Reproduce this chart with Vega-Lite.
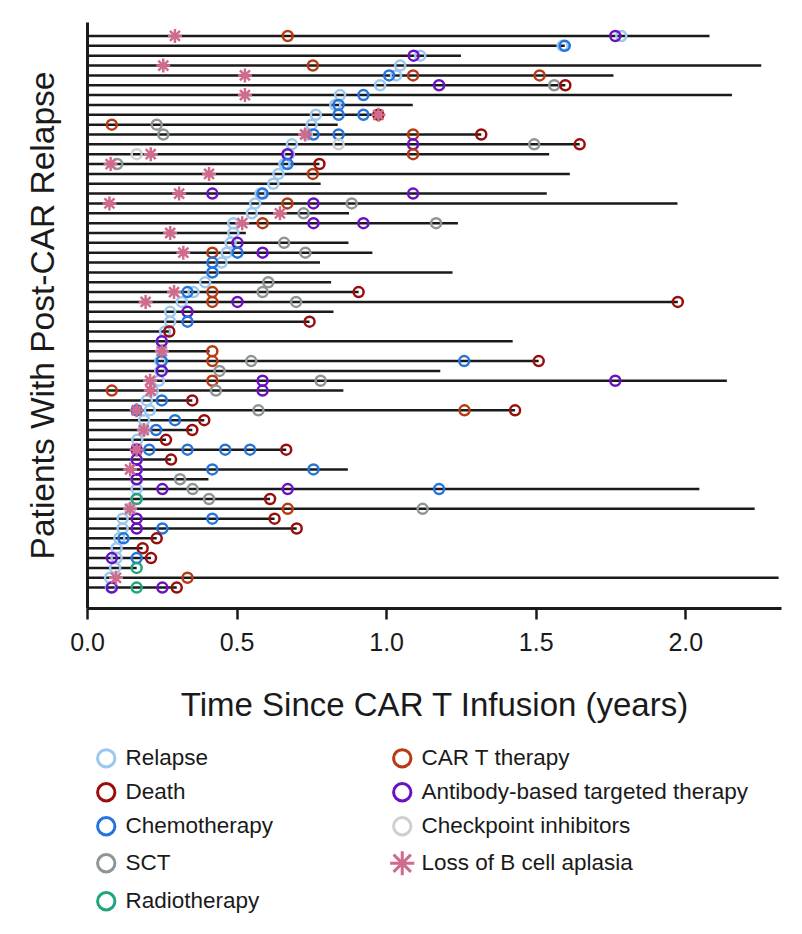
{
  "$schema": "https://vega.github.io/schema/vega-lite/v6.json",
  "width": 694,
  "height": 586,
  "autosize": {"type": "none"},
  "padding": {"left": 87, "top": 22, "right": 21, "bottom": 326},
  "background": "white",
  "config": {"view": {"stroke": null}, "font": "Liberation Sans"},
  "datasets": {
    "lines": [
      {"pt": 1, "start": 0, "end": 2.081}, {"pt": 2, "start": 0, "end": 1.597}, {"pt": 3, "start": 0, "end": 1.25},
      {"pt": 4, "start": 0, "end": 2.254}, {"pt": 5, "start": 0, "end": 1.76}, {"pt": 6, "start": 0, "end": 1.599},
      {"pt": 7, "start": 0, "end": 2.156}, {"pt": 8, "start": 0, "end": 1.089}, {"pt": 9, "start": 0, "end": 0.974},
      {"pt": 10, "start": 0, "end": 0.838}, {"pt": 11, "start": 0, "end": 1.318}, {"pt": 12, "start": 0, "end": 1.647},
      {"pt": 13, "start": 0, "end": 1.545}, {"pt": 14, "start": 0, "end": 0.777}, {"pt": 15, "start": 0, "end": 1.614},
      {"pt": 16, "start": 0, "end": 0.781}, {"pt": 17, "start": 0, "end": 1.537}, {"pt": 18, "start": 0, "end": 1.974},
      {"pt": 19, "start": 0, "end": 0.876}, {"pt": 20, "start": 0, "end": 1.24}, {"pt": 21, "start": 0, "end": 0.531},
      {"pt": 22, "start": 0, "end": 0.874}, {"pt": 23, "start": 0, "end": 0.954}, {"pt": 24, "start": 0, "end": 0.779},
      {"pt": 25, "start": 0, "end": 1.222}, {"pt": 26, "start": 0, "end": 0.816}, {"pt": 27, "start": 0, "end": 0.908},
      {"pt": 28, "start": 0, "end": 1.975}, {"pt": 29, "start": 0, "end": 0.824}, {"pt": 30, "start": 0, "end": 0.744},
      {"pt": 31, "start": 0, "end": 0.275}, {"pt": 32, "start": 0, "end": 1.423}, {"pt": 33, "start": 0, "end": 0.41},
      {"pt": 34, "start": 0, "end": 1.51}, {"pt": 35, "start": 0, "end": 1.181}, {"pt": 36, "start": 0, "end": 2.139},
      {"pt": 37, "start": 0, "end": 0.857}, {"pt": 38, "start": 0, "end": 0.352}, {"pt": 39, "start": 0, "end": 1.431},
      {"pt": 40, "start": 0, "end": 0.392}, {"pt": 41, "start": 0, "end": 0.352}, {"pt": 42, "start": 0, "end": 0.264},
      {"pt": 43, "start": 0, "end": 0.666}, {"pt": 44, "start": 0, "end": 0.281}, {"pt": 45, "start": 0, "end": 0.872},
      {"pt": 46, "start": 0, "end": 0.406}, {"pt": 47, "start": 0, "end": 2.047}, {"pt": 48, "start": 0, "end": 0.612},
      {"pt": 49, "start": 0, "end": 2.232}, {"pt": 50, "start": 0, "end": 0.627}, {"pt": 51, "start": 0, "end": 0.701},
      {"pt": 52, "start": 0, "end": 0.233}, {"pt": 53, "start": 0, "end": 0.186}, {"pt": 54, "start": 0, "end": 0.214},
      {"pt": 55, "start": 0, "end": 0.166}, {"pt": 56, "start": 0, "end": 2.312}, {"pt": 57, "start": 0, "end": 0.3}
    ],
    "events": [
      {"pt": 1, "t": 1.786, "type": "Relapse"}, {"pt": 2, "t": 1.59, "type": "Relapse"}, {"pt": 3, "t": 1.114, "type": "Relapse"},
      {"pt": 4, "t": 1.047, "type": "Relapse"}, {"pt": 5, "t": 1.033, "type": "Relapse"}, {"pt": 6, "t": 0.98, "type": "Relapse"},
      {"pt": 7, "t": 0.846, "type": "Relapse"}, {"pt": 8, "t": 0.83, "type": "Relapse"}, {"pt": 9, "t": 0.765, "type": "Relapse"},
      {"pt": 10, "t": 0.751, "type": "Relapse"}, {"pt": 11, "t": 0.735, "type": "Relapse"}, {"pt": 12, "t": 0.685, "type": "Relapse"},
      {"pt": 13, "t": 0.675, "type": "Relapse"}, {"pt": 14, "t": 0.66, "type": "Relapse"}, {"pt": 15, "t": 0.64, "type": "Relapse"},
      {"pt": 16, "t": 0.623, "type": "Relapse"}, {"pt": 17, "t": 0.58, "type": "Relapse"}, {"pt": 18, "t": 0.562, "type": "Relapse"},
      {"pt": 19, "t": 0.551, "type": "Relapse"}, {"pt": 20, "t": 0.489, "type": "Relapse"}, {"pt": 21, "t": 0.489, "type": "Relapse"},
      {"pt": 22, "t": 0.48, "type": "Relapse"}, {"pt": 23, "t": 0.467, "type": "Relapse"}, {"pt": 24, "t": 0.45, "type": "Relapse"},
      {"pt": 25, "t": 0.42, "type": "Relapse"}, {"pt": 26, "t": 0.395, "type": "Relapse"}, {"pt": 27, "t": 0.356, "type": "Relapse"},
      {"pt": 28, "t": 0.317, "type": "Relapse"}, {"pt": 29, "t": 0.278, "type": "Relapse"}, {"pt": 30, "t": 0.278, "type": "Relapse"},
      {"pt": 31, "t": 0.261, "type": "Relapse"}, {"pt": 32, "t": 0.25, "type": "Relapse"}, {"pt": 33, "t": 0.25, "type": "Relapse"},
      {"pt": 34, "t": 0.245, "type": "Relapse"}, {"pt": 35, "t": 0.245, "type": "Relapse"}, {"pt": 36, "t": 0.24, "type": "Relapse"},
      {"pt": 37, "t": 0.22, "type": "Relapse"}, {"pt": 38, "t": 0.2, "type": "Relapse"}, {"pt": 39, "t": 0.21, "type": "Relapse"},
      {"pt": 40, "t": 0.191, "type": "Relapse"}, {"pt": 41, "t": 0.19, "type": "Relapse"}, {"pt": 42, "t": 0.168, "type": "Relapse"},
      {"pt": 43, "t": 0.166, "type": "Relapse"}, {"pt": 44, "t": 0.166, "type": "Relapse"}, {"pt": 45, "t": 0.166, "type": "Relapse"},
      {"pt": 46, "t": 0.166, "type": "Relapse"}, {"pt": 47, "t": 0.166, "type": "Relapse"}, {"pt": 48, "t": 0.166, "type": "Relapse"},
      {"pt": 49, "t": 0.144, "type": "Relapse"}, {"pt": 50, "t": 0.119, "type": "Relapse"}, {"pt": 51, "t": 0.119, "type": "Relapse"},
      {"pt": 52, "t": 0.108, "type": "Relapse"}, {"pt": 53, "t": 0.099, "type": "Relapse"}, {"pt": 54, "t": 0.099, "type": "Relapse"},
      {"pt": 55, "t": 0.094, "type": "Relapse"}, {"pt": 56, "t": 0.077, "type": "Relapse"}, {"pt": 57, "t": 0.08, "type": "Relapse"},

      {"pt": 1, "t": 0.671, "type": "CAR T therapy"}, {"pt": 1, "t": 1.766, "type": "Antibody-based targeted therapy"},
      {"pt": 2, "t": 1.597, "type": "Chemotherapy"},
      {"pt": 3, "t": 1.092, "type": "Antibody-based targeted therapy"},
      {"pt": 4, "t": 0.755, "type": "CAR T therapy"},
      {"pt": 5, "t": 1.01, "type": "Chemotherapy"}, {"pt": 5, "t": 1.09, "type": "CAR T therapy"}, {"pt": 5, "t": 1.513, "type": "CAR T therapy"},
      {"pt": 6, "t": 1.177, "type": "Antibody-based targeted therapy"}, {"pt": 6, "t": 1.562, "type": "SCT"}, {"pt": 6, "t": 1.599, "type": "Death"},
      {"pt": 7, "t": 0.924, "type": "Chemotherapy"},
      {"pt": 8, "t": 0.841, "type": "Chemotherapy"},
      {"pt": 9, "t": 0.841, "type": "Chemotherapy"}, {"pt": 9, "t": 0.924, "type": "Chemotherapy"}, {"pt": 9, "t": 0.974, "type": "Death"},
      {"pt": 10, "t": 0.083, "type": "CAR T therapy"}, {"pt": 10, "t": 0.233, "type": "SCT"},
      {"pt": 11, "t": 0.255, "type": "SCT"}, {"pt": 11, "t": 0.757, "type": "Chemotherapy"}, {"pt": 11, "t": 0.841, "type": "Chemotherapy"}, {"pt": 11, "t": 1.09, "type": "CAR T therapy"}, {"pt": 11, "t": 1.318, "type": "Death"},
      {"pt": 12, "t": 0.841, "type": "Checkpoint inhibitors"}, {"pt": 12, "t": 1.09, "type": "Antibody-based targeted therapy"}, {"pt": 12, "t": 1.495, "type": "SCT"}, {"pt": 12, "t": 1.647, "type": "Death"},
      {"pt": 13, "t": 0.166, "type": "Checkpoint inhibitors"}, {"pt": 13, "t": 0.67, "type": "Antibody-based targeted therapy"}, {"pt": 13, "t": 1.09, "type": "CAR T therapy"},
      {"pt": 14, "t": 0.101, "type": "SCT"}, {"pt": 14, "t": 0.67, "type": "Chemotherapy"}, {"pt": 14, "t": 0.777, "type": "Death"},
      {"pt": 15, "t": 0.755, "type": "CAR T therapy"},
      {"pt": 17, "t": 0.419, "type": "Antibody-based targeted therapy"}, {"pt": 17, "t": 0.587, "type": "Chemotherapy"}, {"pt": 17, "t": 1.09, "type": "Antibody-based targeted therapy"},
      {"pt": 18, "t": 0.67, "type": "CAR T therapy"}, {"pt": 18, "t": 0.757, "type": "Antibody-based targeted therapy"}, {"pt": 18, "t": 0.885, "type": "SCT"},
      {"pt": 19, "t": 0.724, "type": "SCT"},
      {"pt": 20, "t": 0.587, "type": "CAR T therapy"}, {"pt": 20, "t": 0.757, "type": "Antibody-based targeted therapy"}, {"pt": 20, "t": 0.924, "type": "Antibody-based targeted therapy"}, {"pt": 20, "t": 1.167, "type": "SCT"},
      {"pt": 22, "t": 0.503, "type": "Antibody-based targeted therapy"}, {"pt": 22, "t": 0.659, "type": "SCT"},
      {"pt": 23, "t": 0.419, "type": "CAR T therapy"}, {"pt": 23, "t": 0.503, "type": "Chemotherapy"}, {"pt": 23, "t": 0.587, "type": "Antibody-based targeted therapy"}, {"pt": 23, "t": 0.73, "type": "SCT"},
      {"pt": 24, "t": 0.419, "type": "Chemotherapy"},
      {"pt": 25, "t": 0.419, "type": "Chemotherapy"},
      {"pt": 26, "t": 0.606, "type": "SCT"},
      {"pt": 27, "t": 0.336, "type": "Chemotherapy"}, {"pt": 27, "t": 0.419, "type": "CAR T therapy"}, {"pt": 27, "t": 0.587, "type": "SCT"}, {"pt": 27, "t": 0.908, "type": "Death"},
      {"pt": 28, "t": 0.419, "type": "CAR T therapy"}, {"pt": 28, "t": 0.503, "type": "Antibody-based targeted therapy"}, {"pt": 28, "t": 0.699, "type": "SCT"}, {"pt": 28, "t": 1.975, "type": "Death"},
      {"pt": 29, "t": 0.336, "type": "Antibody-based targeted therapy"},
      {"pt": 30, "t": 0.336, "type": "Chemotherapy"}, {"pt": 30, "t": 0.744, "type": "Death"},
      {"pt": 31, "t": 0.275, "type": "Death"},
      {"pt": 32, "t": 0.25, "type": "Antibody-based targeted therapy"},
      {"pt": 33, "t": 0.419, "type": "CAR T therapy"},
      {"pt": 34, "t": 0.25, "type": "Chemotherapy"}, {"pt": 34, "t": 0.419, "type": "CAR T therapy"}, {"pt": 34, "t": 0.549, "type": "SCT"}, {"pt": 34, "t": 1.261, "type": "Chemotherapy"}, {"pt": 34, "t": 1.51, "type": "Death"},
      {"pt": 35, "t": 0.25, "type": "Antibody-based targeted therapy"}, {"pt": 35, "t": 0.443, "type": "SCT"},
      {"pt": 36, "t": 0.419, "type": "CAR T therapy"}, {"pt": 36, "t": 0.587, "type": "Antibody-based targeted therapy"}, {"pt": 36, "t": 0.781, "type": "SCT"}, {"pt": 36, "t": 1.766, "type": "Antibody-based targeted therapy"},
      {"pt": 37, "t": 0.083, "type": "CAR T therapy"}, {"pt": 37, "t": 0.431, "type": "SCT"}, {"pt": 37, "t": 0.587, "type": "Antibody-based targeted therapy"},
      {"pt": 38, "t": 0.25, "type": "Chemotherapy"}, {"pt": 38, "t": 0.352, "type": "Death"},
      {"pt": 39, "t": 0.166, "type": "Chemotherapy"}, {"pt": 39, "t": 0.573, "type": "SCT"}, {"pt": 39, "t": 1.262, "type": "CAR T therapy"}, {"pt": 39, "t": 1.431, "type": "Death"},
      {"pt": 40, "t": 0.294, "type": "Chemotherapy"}, {"pt": 40, "t": 0.392, "type": "Death"},
      {"pt": 41, "t": 0.231, "type": "Chemotherapy"}, {"pt": 41, "t": 0.352, "type": "Death"},
      {"pt": 42, "t": 0.264, "type": "Death"},
      {"pt": 43, "t": 0.166, "type": "Antibody-based targeted therapy"}, {"pt": 43, "t": 0.208, "type": "Chemotherapy"}, {"pt": 43, "t": 0.336, "type": "Chemotherapy"}, {"pt": 43, "t": 0.462, "type": "Chemotherapy"}, {"pt": 43, "t": 0.545, "type": "Chemotherapy"}, {"pt": 43, "t": 0.666, "type": "Death"},
      {"pt": 44, "t": 0.166, "type": "Antibody-based targeted therapy"}, {"pt": 44, "t": 0.281, "type": "Death"},
      {"pt": 45, "t": 0.166, "type": "Antibody-based targeted therapy"}, {"pt": 45, "t": 0.419, "type": "Chemotherapy"}, {"pt": 45, "t": 0.757, "type": "Chemotherapy"},
      {"pt": 46, "t": 0.166, "type": "Antibody-based targeted therapy"}, {"pt": 46, "t": 0.311, "type": "SCT"},
      {"pt": 47, "t": 0.252, "type": "Antibody-based targeted therapy"}, {"pt": 47, "t": 0.353, "type": "SCT"}, {"pt": 47, "t": 0.671, "type": "Antibody-based targeted therapy"}, {"pt": 47, "t": 1.177, "type": "Chemotherapy"},
      {"pt": 48, "t": 0.166, "type": "Radiotherapy"}, {"pt": 48, "t": 0.408, "type": "SCT"}, {"pt": 48, "t": 0.612, "type": "Death"},
      {"pt": 49, "t": 0.671, "type": "CAR T therapy"}, {"pt": 49, "t": 1.122, "type": "SCT"},
      {"pt": 50, "t": 0.166, "type": "Antibody-based targeted therapy"}, {"pt": 50, "t": 0.419, "type": "Chemotherapy"}, {"pt": 50, "t": 0.627, "type": "Death"},
      {"pt": 51, "t": 0.166, "type": "Antibody-based targeted therapy"}, {"pt": 51, "t": 0.252, "type": "Chemotherapy"}, {"pt": 51, "t": 0.701, "type": "Death"},
      {"pt": 52, "t": 0.122, "type": "Chemotherapy"}, {"pt": 52, "t": 0.233, "type": "Death"},
      {"pt": 53, "t": 0.186, "type": "Death"},
      {"pt": 54, "t": 0.083, "type": "Antibody-based targeted therapy"}, {"pt": 54, "t": 0.166, "type": "Chemotherapy"}, {"pt": 54, "t": 0.214, "type": "Death"},
      {"pt": 55, "t": 0.166, "type": "Radiotherapy"},
      {"pt": 56, "t": 0.336, "type": "CAR T therapy"},
      {"pt": 57, "t": 0.083, "type": "Antibody-based targeted therapy"}, {"pt": 57, "t": 0.166, "type": "Radiotherapy"}, {"pt": 57, "t": 0.252, "type": "Antibody-based targeted therapy"}, {"pt": 57, "t": 0.3, "type": "Death"},

      {"pt": 1, "t": 0.294, "type": "Loss of B cell aplasia"}, {"pt": 4, "t": 0.255, "type": "Loss of B cell aplasia"},
      {"pt": 5, "t": 0.528, "type": "Loss of B cell aplasia"}, {"pt": 7, "t": 0.528, "type": "Loss of B cell aplasia"},
      {"pt": 9, "t": 0.974, "type": "Loss of B cell aplasia"}, {"pt": 11, "t": 0.729, "type": "Loss of B cell aplasia"},
      {"pt": 13, "t": 0.213, "type": "Loss of B cell aplasia"}, {"pt": 14, "t": 0.079, "type": "Loss of B cell aplasia"},
      {"pt": 15, "t": 0.408, "type": "Loss of B cell aplasia"}, {"pt": 17, "t": 0.308, "type": "Loss of B cell aplasia"},
      {"pt": 18, "t": 0.075, "type": "Loss of B cell aplasia"}, {"pt": 19, "t": 0.645, "type": "Loss of B cell aplasia"},
      {"pt": 20, "t": 0.519, "type": "Loss of B cell aplasia"}, {"pt": 21, "t": 0.278, "type": "Loss of B cell aplasia"},
      {"pt": 23, "t": 0.322, "type": "Loss of B cell aplasia"}, {"pt": 27, "t": 0.291, "type": "Loss of B cell aplasia"},
      {"pt": 28, "t": 0.196, "type": "Loss of B cell aplasia"}, {"pt": 33, "t": 0.25, "type": "Loss of B cell aplasia"},
      {"pt": 36, "t": 0.211, "type": "Loss of B cell aplasia"}, {"pt": 37, "t": 0.213, "type": "Loss of B cell aplasia"},
      {"pt": 39, "t": 0.166, "type": "Loss of B cell aplasia"}, {"pt": 41, "t": 0.19, "type": "Loss of B cell aplasia"},
      {"pt": 43, "t": 0.166, "type": "Loss of B cell aplasia"}, {"pt": 45, "t": 0.144, "type": "Loss of B cell aplasia"},
      {"pt": 49, "t": 0.144, "type": "Loss of B cell aplasia"}, {"pt": 56, "t": 0.097, "type": "Loss of B cell aplasia"}
    ]
  },
  "layer": [
    {
      "data": {"name": "lines"},
      "mark": {"type": "rule", "strokeWidth": 2.5, "color": "#1a1a1a"},
      "encoding": {
        "x": {
          "field": "start", "type": "quantitative",
          "scale": {"domain": [0, 2.32], "nice": false, "zero": true},
          "axis": {
            "values": [0, 0.5, 1, 1.5, 2], "format": ".1f",
            "title": "Time Since CAR T Infusion (years)",
            "titleFontSize": 33, "titleFontWeight": "normal", "titleColor": "#1a1a1a", "titlePadding": 34,
            "labelFontSize": 25, "labelColor": "#1a1a1a", "labelPadding": 11, "labelFlush": false,
            "tickSize": 11, "tickWidth": 2.5, "tickColor": "#1a1a1a",
            "domainColor": "#1a1a1a", "domainWidth": 3, "grid": false
          }
        },
        "x2": {"field": "end"},
        "y": {
          "field": "pt", "type": "quantitative",
          "scale": {"domain": [-0.42, 59.07], "reverse": true, "nice": false, "zero": false},
          "axis": {
            "title": "Patients With Post-CAR Relapse",
            "titleFontSize": 33.5, "titleFontWeight": "normal", "titleColor": "#1a1a1a", "titlePadding": 27,
            "labels": false, "ticks": false, "grid": false,
            "domainColor": "#1a1a1a", "domainWidth": 3
          }
        }
      }
    },
    {
      "data": {"name": "events"},
      "mark": {"type": "point", "filled": false, "strokeWidth": 2.5, "size": 100, "opacity": 1},
      "encoding": {
        "x": {"field": "t", "type": "quantitative"},
        "y": {"field": "pt", "type": "quantitative"},
        "color": {
          "field": "type", "type": "nominal",
          "scale": {
            "domain": ["Relapse", "Death", "Chemotherapy", "SCT", "Radiotherapy", "CAR T therapy", "Antibody-based targeted therapy", "Checkpoint inhibitors", "Loss of B cell aplasia"],
            "range": ["#9CC7EF", "#9A0D0D", "#2474DE", "#8D9595", "#1FA57B", "#B83A12", "#6B10C4", "#CDD0D2", "#CF6C8C"]
          },
          "legend": {
            "title": null, "orient": "none", "legendX": 8, "legendY": 725, "columns": 2,
            "padding": 0, "rowPadding": 4, "columnPadding": 110,
            "labelFontSize": 22.5, "labelColor": "#1a1a1a", "labelLimit": 450, "labelOffset": 8,
            "symbolSize": 300, "symbolStrokeWidth": 3
          }
        },
        "shape": {
          "field": "type", "type": "nominal",
          "scale": {
            "domain": ["Relapse", "Death", "Chemotherapy", "SCT", "Radiotherapy", "CAR T therapy", "Antibody-based targeted therapy", "Checkpoint inhibitors", "Loss of B cell aplasia"],
            "range": ["circle", "circle", "circle", "circle", "circle", "circle", "circle", "circle", "M0,-1.4L0,1.4M-1.4,0L1.4,0M-1,-1L1,1M-1,1L1,-1"]
          }
        }
      }
    }
  ]
}
